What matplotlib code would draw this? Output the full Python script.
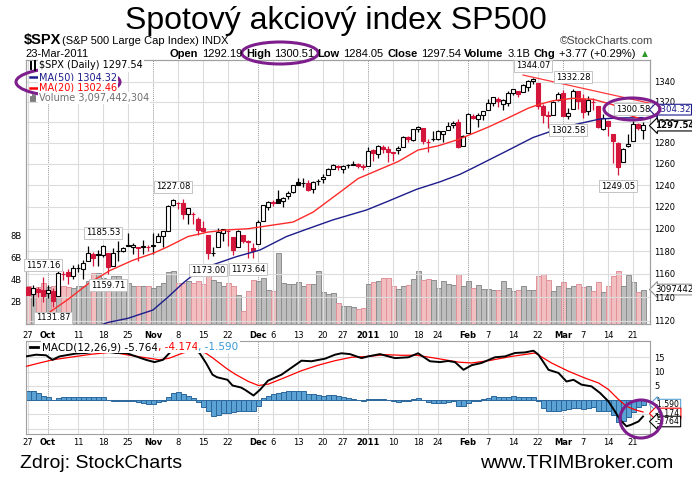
"""
$SPX daily candles (27-Sep-2010 .. 23-Mar-2011) with MA(50), MA(20),
volume overlay and a MACD(12,26,9) panel, StockCharts style.
"""
import pandas as pd
import matplotlib
matplotlib.use('Agg')
import matplotlib.pyplot as plt
from matplotlib.patches import Ellipse
from matplotlib.lines import Line2D
from matplotlib.ticker import FixedLocator, NullLocator, FuncFormatter

W, H, DPI = 692, 480, 100

# ---- trading days -------------------------------------------------------
holidays = ['2010-11-25', '2010-12-24', '2011-01-17', '2011-02-21']
days = pd.bdate_range('2010-09-27', '2011-03-23')
days = days[~days.isin(pd.to_datetime(holidays))]

prev_close = 1148.67  # close of 24-Sep-2010

opens = [1148.64, 1142.31, 1146.75, 1145.97, 1143.49,
         1144.96, 1140.68, 1159.81, 1161.57, 1158.36,
         1165.32, 1164.28, 1171.32, 1177.82, 1177.47,
         1176.83, 1178.64, 1166.74, 1179.82, 1180.52,
         1184.74, 1183.84, 1183.84, 1184.47, 1183.87,
         1185.71, 1187.86, 1193.79, 1198.34, 1221.20,
         1223.24, 1223.59, 1213.14, 1213.04, 1209.07,
         1200.44, 1194.79, 1178.33, 1183.75, 1196.12,
         1198.07, 1192.51, 1183.70, 1194.16,
         1189.08, 1182.96, 1186.60, 1206.81, 1219.93,
         1223.87, 1227.25, 1225.02, 1230.14, 1233.85,
         1242.52, 1241.84, 1241.58, 1236.34, 1243.63,
         1245.76, 1249.43, 1254.94, 1257.53,
         1254.66, 1259.10, 1258.78, 1259.44, 1256.76,
         1257.62, 1272.95, 1268.78, 1276.29, 1274.41,
         1270.84, 1272.58, 1275.65, 1285.78, 1282.90,
         1293.22, 1294.52, 1280.85, 1283.63,
         1283.29, 1288.17, 1291.97, 1297.51, 1299.63,
         1276.50, 1289.14, 1305.91, 1302.77, 1307.01,
         1311.85, 1318.76, 1322.48, 1318.13, 1318.66,
         1328.73, 1330.43, 1329.51, 1334.37, 1340.38,
         1338.91, 1315.44, 1307.09, 1307.34,
         1321.61, 1328.64, 1305.47, 1312.37, 1330.73,
         1322.72, 1311.05, 1319.92, 1315.72, 1293.43,
         1301.19, 1288.46, 1279.46, 1261.61, 1276.71,
         1281.65, 1298.29, 1292.19]

highs = [1149.92, 1150.00, 1148.63, 1157.16, 1150.30,
         1148.16, 1162.76, 1162.33, 1163.87, 1167.73,
         1168.68, 1172.58, 1184.38, 1178.89, 1181.20,
         1185.53, 1178.64, 1182.94, 1189.43, 1183.93,
         1196.14, 1187.11, 1183.84, 1189.53, 1185.46,
         1195.81, 1195.88, 1198.30, 1221.25, 1227.08,
         1224.57, 1226.84, 1218.75, 1215.45, 1210.50,
         1207.43, 1194.79, 1183.56, 1200.29, 1199.97,
         1198.94, 1192.51, 1198.62, 1194.16,
         1190.34, 1187.40, 1207.61, 1221.89, 1225.57,
         1225.80, 1235.05, 1228.93, 1234.71, 1240.40,
         1246.73, 1246.59, 1244.25, 1243.75, 1245.81,
         1250.20, 1255.82, 1259.39, 1258.59,
         1258.43, 1259.90, 1262.60, 1261.09, 1259.34,
         1276.17, 1274.12, 1277.63, 1278.17, 1276.83,
         1271.52, 1277.25, 1286.87, 1286.70, 1293.24,
         1296.06, 1294.60, 1283.35, 1291.21,
         1291.93, 1291.26, 1299.74, 1301.29, 1302.67,
         1287.17, 1308.86, 1307.61, 1308.60, 1311.00,
         1322.85, 1324.87, 1324.54, 1322.76, 1330.79,
         1332.96, 1330.43, 1337.61, 1341.50, 1344.07,
         1338.91, 1317.91, 1310.91, 1320.61,
         1329.38, 1332.09, 1314.19, 1332.28, 1331.08,
         1327.68, 1325.74, 1323.21, 1315.72, 1308.35,
         1301.19, 1288.46, 1280.91, 1274.81, 1288.88,
         1300.58, 1299.35, 1300.51]

lows = [1142.00, 1132.09, 1140.26, 1136.08, 1139.42,
        1131.87, 1140.68, 1154.85, 1151.41, 1155.58,
        1162.02, 1155.71, 1171.32, 1166.71, 1167.12,
        1174.55, 1159.71, 1166.74, 1171.17, 1178.99,
        1184.74, 1177.72, 1171.70, 1177.10, 1179.70,
        1177.65, 1187.86, 1183.56, 1198.34, 1220.29,
        1217.55, 1208.94, 1204.33, 1204.49, 1194.08,
        1197.15, 1173.00, 1175.82, 1183.75, 1189.44,
        1184.58, 1176.91, 1183.70, 1186.93,
        1173.64, 1174.14, 1186.60, 1206.81, 1216.82,
        1220.67, 1223.25, 1219.50, 1226.85, 1232.58,
        1240.34, 1238.17, 1234.01, 1232.85, 1239.87,
        1241.51, 1249.43, 1254.94, 1254.05,
        1251.48, 1256.22, 1258.78, 1256.32, 1254.19,
        1257.62, 1262.66, 1265.36, 1270.43, 1261.70,
        1262.18, 1269.62, 1275.65, 1280.47, 1281.24,
        1290.16, 1278.92, 1271.26, 1282.07,
        1282.47, 1281.07, 1291.97, 1294.41, 1275.10,
        1276.50, 1289.14, 1302.62, 1294.83, 1301.67,
        1311.85, 1316.03, 1314.89, 1311.74, 1316.08,
        1326.90, 1324.61, 1329.51, 1331.00, 1338.12,
        1312.33, 1299.55, 1294.26, 1307.34,
        1320.55, 1306.14, 1302.58, 1312.37, 1312.59,
        1303.99, 1306.86, 1312.27, 1294.21, 1291.99,
        1286.37, 1261.12, 1249.05, 1261.61, 1276.18,
        1281.65, 1292.70, 1284.05]

closes = [1142.16, 1147.70, 1144.73, 1141.20, 1146.24,
          1137.03, 1160.75, 1159.97, 1158.06, 1165.15,
          1165.32, 1169.77, 1178.10, 1173.81, 1176.19,
          1184.71, 1165.90, 1178.17, 1180.26, 1183.08,
          1185.62, 1185.64, 1182.45, 1183.78, 1183.26,
          1184.38, 1193.57, 1197.96, 1221.06, 1225.85,
          1223.25, 1213.40, 1218.71, 1213.54, 1199.21,
          1197.75, 1178.34, 1178.59, 1196.69, 1199.73,
          1197.84, 1180.73, 1198.35, 1189.40,
          1187.76, 1180.55, 1206.07, 1221.53, 1224.71,
          1223.12, 1223.75, 1228.28, 1233.00, 1240.40,
          1240.46, 1241.59, 1235.23, 1242.87, 1243.91,
          1247.08, 1254.60, 1258.84, 1256.77,
          1257.54, 1258.51, 1259.78, 1257.88, 1257.64,
          1271.87, 1270.20, 1276.56, 1273.85, 1271.50,
          1269.75, 1274.48, 1285.96, 1283.76, 1293.24,
          1295.02, 1281.92, 1280.26, 1283.35,
          1290.84, 1291.18, 1296.63, 1299.54, 1276.34,
          1286.12, 1307.59, 1304.03, 1307.10, 1310.87,
          1319.05, 1324.57, 1320.88, 1321.87, 1329.15,
          1332.32, 1328.01, 1336.32, 1340.43, 1343.01,
          1315.44, 1307.40, 1306.10, 1319.88,
          1327.22, 1306.33, 1308.44, 1330.97, 1321.15,
          1310.13, 1321.82, 1320.02, 1295.11, 1304.28,
          1296.39, 1281.87, 1256.88, 1273.72, 1279.20,
          1298.38, 1293.77, 1297.54]

# volume in billions of shares
volume_b = [3.39, 3.24, 3.33, 3.69, 3.33, 3.39, 3.39, 3.45, 3.33, 3.24,
            3.39, 3.39, 3.84, 4.58, 4.58, 4.14, 3.99, 4.29, 4.29, 3.99,
            3.69, 3.39, 3.45, 3.39, 3.39, 3.24, 3.45, 3.69, 4.65, 4.73,
            3.69, 3.69, 3.84, 3.69, 3.84, 3.63, 4.29, 3.99, 3.75, 3.39,
            3.69, 3.39, 2.65, 1.16, 2.95, 3.93, 3.84, 4.14, 3.10, 2.95,
            6.43, 3.69, 3.63, 3.63, 3.75, 3.45, 3.63, 3.63, 4.79, 2.86,
            2.74, 2.80, 1.85, 1.61, 1.61, 1.49, 1.31, 1.43, 3.63, 3.75,
            3.90, 4.17, 4.17, 3.45, 3.18, 3.45, 3.54, 4.08, 4.73, 3.93,
            4.05, 3.99, 3.24, 3.84, 3.63, 3.54, 4.52, 3.45, 3.84, 3.27,
            3.54, 3.18, 3.18, 3.04, 3.10, 3.84, 3.27, 2.95, 3.10, 3.39,
            3.04, 3.10, 4.34, 4.52, 3.99, 2.95, 3.39, 3.75, 3.21, 3.45,
            3.63, 3.30, 3.39, 2.95, 3.75, 2.92, 3.39, 4.29, 4.73, 3.45,
            4.37, 3.75, 2.86, 3.10]

# moving averages, read at chart vertices (x = trading-day index)
ma20_x = [1.5, 4.6, 8, 12.2, 16.4, 21, 25, 28, 32, 36, 40, 44, 47, 53, 57,
          62, 66, 70, 74, 78, 82, 86, 92, 96, 100, 102, 105, 109, 113, 117,
          120, 123]
ma20_y = [1117, 1128, 1138, 1152, 1163, 1172, 1178, 1184, 1193, 1197, 1199,
          1200, 1202, 1206, 1215, 1232, 1246, 1254, 1262, 1273, 1277, 1283,
          1295, 1304, 1313.5, 1317, 1321, 1323.4, 1322.4, 1317, 1307, 1302.46]
ma50_x = [13, 16, 20, 25, 28, 31, 33, 37, 41.6, 46.4, 51.7, 56, 61, 67.7, 72,
          77.7, 82.4, 86.4, 89, 95.7, 101, 104.4, 109, 114.4, 118, 123]
ma50_y = [1114, 1118.5, 1122, 1129, 1140, 1152, 1159, 1168, 1175, 1181, 1193,
          1200, 1208, 1217, 1225, 1236, 1243, 1250, 1256, 1272, 1285, 1290.7,
          1297.2, 1303, 1304, 1304.32]

# MACD(12,26,9)
macd_x = [-0.4, 1.6, 3.6, 4.9, 6.3, 9.6, 11.6, 13.5, 15.5, 17.6,
          19.6, 21.6, 23.6, 25.3, 27, 28.3, 29.5, 31, 33, 34.3,
          35.6, 36.9, 37.8, 39.9, 40.9, 42.6, 43.4, 45.1, 46.4, 48,
          50.7, 54.7, 56.7, 59.4, 61.4, 62.7, 64.4, 66.7, 68, 70.4,
          73.4, 76.1, 78, 80.4, 82.4, 84, 85.4, 87.1, 88.7, 90.7,
          93.4, 95.4, 97.4, 99.4, 101.1, 102.1, 104.1, 106.1, 107.7, 109.1,
          110.7, 112.7, 114.4, 116.1, 117.4, 118.4, 119.7, 120.7, 122.1, 123]
macd_y = [15.3, 15.9, 15.7, 14.1, 15.3, 16.3, 16.5, 17.0, 17.0, 16.5,
          16.5, 15.3, 14.1, 13.3, 14.1, 16.5, 18.5, 19.0, 18.0, 16.5,
          13.0, 8.9, 8.0, 7.1, 5.1, 4.4, 3.6, 1.6, 3.6, 6.8,
          8.9, 13.8, 13.6, 14.5, 15.9, 16.4, 16.1, 14.7, 15.3, 16.1,
          14.7, 15.0, 16.4, 13.6, 13.3, 13.7, 13.3, 10.6, 12.2, 13.0,
          15.0, 15.3, 16.5, 16.7, 17.3, 15.9, 10.6, 9.5, 6.5, 7.1,
          5.4, 4.8, 2.5, -0.5, -4.0, -6.9, -9.2, -8.6, -7.5, -5.764]
signal_x = [-0.4, 2.3, 4.9, 9.6, 12.9, 16.9, 19.6, 22.9, 26.3, 28.3,
            31, 33, 34.3, 35.5, 37, 39.6, 41.4, 44.1, 46.1, 48.1,
            51.4, 54.7, 58, 61.4, 64.7, 68, 71.4, 74.7, 77.7, 81.4,
            83.4, 86.1, 88.7, 92.1, 96.7, 101.4, 104.7, 108.1, 111.4, 114.1,
            116.1, 118.1, 119.7, 121.4, 123]
signal_y = [11.8, 13.0, 14.1, 15.3, 16.1, 16.8, 15.9, 15.0, 14.1, 14.7,
            16.5, 17.3, 17.3, 16.5, 14.7, 11.2, 9.1, 6.5, 5.1, 5.6,
            7.9, 10.3, 12.2, 13.8, 15.0, 15.3, 15.9, 15.7, 15.7, 14.7,
            14.1, 13.3, 13.0, 13.8, 15.3, 16.5, 13.0, 10.1, 7.7, 6.0,
            3.7, 0.2, -2.2, -3.4, -4.174]
macd_hist = [3.0, 3.0, 2.3, 1.5, 0.9, 0.0, 0.6, 0.9, 0.9, 0.9,
             0.9, 0.9, 1.2, 1.2, 0.9, 1.2, 0.0, -0.2, -0.2, -0.2,
             -0.2, -0.5, -0.8, -1.2, -1.4, -1.4, -0.8, -0.2, 0.9, 2.3,
             2.7, 2.1, 1.5, 0.6, -0.8, -2.3, -4.0, -5.7, -5.1, -4.7,
             -4.7, -4.3, -4.0, -3.7, -3.7, -4.0, -2.0, 0.7, 1.5, 2.1,
             2.5, 2.7, 3.0, 3.3, 3.3, 3.3, 2.1, 2.1, 1.9, 1.5,
             1.9, 1.9, 1.5, 1.2, 0.7, 0.35, 0.0, -0.5, 0.2, 0.2,
             0.5, 0.2, 0.0, -0.2, -0.8, -0.2, -0.2, 0.35, 0.7, 0.0,
             -0.8, -1.2, -1.2, -0.9, -0.8, -0.5, -2.0, -2.2, -1.2, -0.5,
             -0.2, 0.2, 0.7, 1.5, 1.2, 0.9, 0.9, 1.5, 0.9, 1.2,
             1.2, 1.2, -0.5, -2.8, -3.7, -3.7, -4.0, -3.5, -3.2, -2.8,
             -2.8, -3.2, -2.8, -2.3, -4.0, -4.0, -4.0, -5.1, -7.8, -7.3,
             -6.1, -4.3, -2.6, -1.59]

# hand-drawn resistance line (date index, price)
trend_x = [99, 124.4]
trend_y = [1346.7, 1318.5]

# price labels StockCharts puts on swing highs / lows
peak_dates = ['2010-09-30', '2010-10-18', '2010-11-05', '2011-02-18',
              '2011-03-03', '2011-03-21']
trough_dates = ['2010-10-04', '2010-10-19', '2010-11-16', '2010-11-29',
                '2011-03-02', '2011-03-16']

tick_dates = ['2010-09-27', '2010-10-01', '2010-10-11', '2010-10-18',
              '2010-10-25', '2010-11-01', '2010-11-08', '2010-11-15',
              '2010-11-22', '2010-12-01', '2010-12-06', '2010-12-13',
              '2010-12-20', '2010-12-27', '2011-01-03', '2011-01-10',
              '2011-01-18', '2011-01-24', '2011-02-01', '2011-02-07',
              '2011-02-14', '2011-02-22', '2011-03-01', '2011-03-07',
              '2011-03-14', '2011-03-21']
tick_labels = ['27', 'Oct', '11', '18', '25', 'Nov', '8', '15', '22', 'Dec',
               '6', '13', '20', '27', '2011', '10', '18', '24', 'Feb', '7',
               '14', '22', 'Mar', '7', '14', '21']
month_labels = {'Oct', 'Nov', 'Dec', '2011', 'Feb', 'Mar'}

price_ticks = list(range(1120, 1341, 20))
volume_ticks = [2, 4, 6, 8]
macd_ticks = [-10, -5, 0, 5, 10, 15]

header_parts = [('Open', True), ('1292.19', False), ('High', True),
                ('1300.51', False), ('Low', True), ('1284.05', False),
                ('Close', True), ('1297.54', False), ('Volume', True),
                ('3.1B', False), ('Chg', True), ('+3.77 (+0.29%)', False)]

# ---- styling --------------------------------------------------------------
plt.rcParams['font.family'] = 'DejaVu Sans'
RED = '#d4163c'
GRID = '#dcdcdc'
MONTH_GRID = '#9a9a9a'
FRAME = '#a0a0a0'
PURPLE = '#7d1e8c'


def fx(px):
    return px / W


def fy(py):
    return 1 - py / H


def ptext(x, y, s, **kw):
    kw.setdefault('va', 'center')
    return fig.text(fx(x), fy(y), s, **kw)


fig = plt.figure(figsize=(W / DPI, H / DPI), dpi=DPI)
fig.patch.set_facecolor('white')
renderer = fig.canvas.get_renderer()

L, R = 26, 650
ax_vol = fig.add_axes([fx(L), fy(324), (R - L) / W, (324 - 59.5) / H])
ax = ax_vol.twinx()
ax_m = fig.add_axes([fx(L), fy(434), (R - L) / W, (434 - 341) / H],
                    sharex=ax_vol)

idx = list(range(len(days)))
tick_pos = [days.get_loc(pd.Timestamp(d)) for d in tick_dates]
prev = [prev_close] + closes[:-1]
up = [c >= p for c, p in zip(closes, prev)]

# ---- volume overlay ------------------------------------------------------
ax_vol.bar(idx, volume_b, width=1.0,
           color=['#bdbdbd' if u else '#f2bec0' for u in up],
           edgecolor=['#8e8e8e' if u else '#e0929a' for u in up],
           linewidth=0.7, zorder=2)
ax_vol.set_ylim(0, 23.8)
ax_vol.set_xlim(-0.4, 124.4)
ax_vol.yaxis.set_major_locator(FixedLocator(volume_ticks))
ax_vol.yaxis.set_major_formatter(FuncFormatter(lambda v, p: f'{v:.0f}B'))

# ---- candles -------------------------------------------------------------
cols = ['black' if u else RED for u in up]
ax.vlines(idx, lows, highs, colors=cols, linewidth=0.9, zorder=3)
body_low = [min(o, c) for o, c in zip(opens, closes)]
body_h = [abs(c - o) for o, c in zip(opens, closes)]
fill = [col if c < o else 'white' for col, o, c in zip(cols, opens, closes)]
ax.bar(idx, body_h, bottom=body_low, width=0.75, color=fill,
       edgecolor=cols, linewidth=0.8, zorder=4)

ax.plot(ma50_x, ma50_y, color='#1c1c8c', lw=1.0, zorder=5)
ax.plot(ma20_x, ma20_y, color='#ff2a2a', lw=1.0, zorder=5)
ax.plot(trend_x, trend_y, color='#ff3a3a', lw=0.9, zorder=5, clip_on=False)

ax.set_yscale('log')
ax.set_ylim(1117.2, 1362.5)
ax.yaxis.set_major_locator(FixedLocator(price_ticks))
ax.yaxis.set_minor_locator(NullLocator())
ax.yaxis.set_major_formatter(FuncFormatter(lambda v, p: f'{v:.0f}'))
ax.grid(True, axis='y', color=GRID, lw=0.8)

for a in (ax, ax_m):
    for pos, lab in zip(tick_pos, tick_labels):
        if lab in month_labels:
            a.axvline(pos, color=MONTH_GRID, lw=0.7, ls=(0, (1, 1)), zorder=1)
        else:
            a.axvline(pos, color=GRID, lw=0.8, zorder=1)

# swing labels
lab_box = dict(boxstyle='square,pad=0.18', fc='white', ec='#c4c4c4', lw=0.7)
for d in peak_dates:
    i = days.get_loc(pd.Timestamp(d))
    ax.annotate(f'{highs[i]:.2f}', xy=(i, highs[i]), xytext=(0, 12),
                textcoords='offset pixels', ha='center', va='center',
                fontsize=6, bbox=lab_box, zorder=8)
for d in trough_dates:
    i = days.get_loc(pd.Timestamp(d))
    ax.annotate(f'{lows[i]:.2f}', xy=(i, lows[i]), xytext=(0, -11),
                textcoords='offset pixels', ha='center', va='center',
                fontsize=6, bbox=lab_box, zorder=8)


def right_tag(a, y, s, color, ec, bold=False, dy=0, size=6.2):
    a.annotate(s, xy=(1.0, y), xycoords=('axes fraction', 'data'),
               xytext=(5, dy), textcoords='offset pixels', ha='left',
               va='center', fontsize=size, color=color,
               fontweight='bold' if bold else 'normal',
               bbox=dict(boxstyle='larrow,pad=0.1', fc='white', ec=ec,
                         lw=0.8), annotation_clip=False, zorder=10)


# StockCharts stacks the last-value tags so they do not hide each other
right_tag(ax, ma50_y[-1], f'{ma50_y[-1]:.2f}', '#1c1c8c', '#1c1c8c', dy=8)
right_tag(ax, closes[-1], f'{closes[-1]:.2f}', 'black', 'black', bold=True,
          dy=-1)
right_tag(ax_vol, volume_b[-1], '3097442', 'black', '#909090')

# ---- MACD panel ----------------------------------------------------------
ax_m.bar(idx, macd_hist, width=1.0, color='#5aa2d4', edgecolor='#2c679c',
         linewidth=0.7, zorder=2)
ax_m.plot(signal_x, signal_y, color='red', lw=0.9, zorder=3)
ax_m.plot(macd_x, macd_y, color='black', lw=1.4, zorder=4)
ax_m.set_ylim(-11.9, 20.7)
ax_m.yaxis.tick_right()
ax_m.yaxis.set_major_locator(FixedLocator(macd_ticks))
ax_m.yaxis.set_major_formatter(
    FuncFormatter(lambda v, p: f'{v:.0f}' if v >= 0 else ''))
ax_m.grid(True, axis='y', color=GRID, lw=0.8)
right_tag(ax_m, macd_hist[-1], f'{macd_hist[-1]:.3f}', 'black', '#5aa2d4',
          dy=0, size=5.6)
right_tag(ax_m, signal_y[-1], f'{signal_y[-1]:.3f}', 'black', 'red',
          dy=-1.5, size=5.6)
right_tag(ax_m, macd_y[-1], f'{macd_y[-1]:.3f}', 'black', 'black',
          dy=-5, size=5.6)

# ---- axes cosmetics ------------------------------------------------------
for a in (ax_vol, ax, ax_m):
    for sp in a.spines.values():
        sp.set_color(FRAME)
        sp.set_linewidth(0.8)
    a.tick_params(length=0, labelsize=6)
ax.tick_params(axis='y', pad=3)
ax_vol.tick_params(axis='y', pad=3)
ax_m.tick_params(axis='y', pad=3)
for a, pad in ((ax_vol, 5), (ax_m, 3)):
    a.xaxis.set_major_locator(FixedLocator(tick_pos))
    a.set_xticklabels(tick_labels)
    a.tick_params(axis='x', pad=pad)
    for t in a.get_xticklabels():
        if t.get_text() in month_labels:
            t.set_fontweight('bold')

# ---- header / legends ----------------------------------------------------
ptext(336, 29, 'Spotový akciový index SP500', ha='center', va='baseline',
      fontsize=23, family='Liberation Sans')
ptext(24, 44, '$SPX', va='baseline', fontsize=10.5, fontweight='bold',
      family='Liberation Sans')
ptext(62, 44, '(S&P 500 Large Cap Index) INDX', va='baseline', fontsize=8,
      family='Liberation Sans')
ptext(653, 44, '\u00a9StockCharts.com', ha='right', va='baseline',
      fontsize=8, color='#444444', family='Liberation Sans')
ptext(25, 57, '23-Mar-2011', va='baseline', fontsize=8,
      family='Liberation Sans')

# quote line laid out word by word
x = 170
spans = []
for s, b in header_parts:
    t = ptext(x, 57, s, va='baseline', fontsize=8,
              fontweight='bold' if b else 'normal', family='Liberation Sans')
    w = t.get_window_extent(renderer=renderer).width
    spans.append((x, x + w))
    x += w + 3.5
ptext(x + 3, 56, '\u25b2', va='baseline', fontsize=5.5, color='#2a9a2a')
high_l, high_r = spans[2][0], spans[3][1]

legend_box = dict(boxstyle='square,pad=0.12', fc='white', ec='none')
ptext(39, 65.5, '$SPX (Daily) 1297.54', fontsize=7, bbox=legend_box)
ptext(39, 77, 'MA(50) 1304.32', fontsize=7, color='#1c1c8c', bbox=legend_box)
ptext(39, 87.5, 'MA(20) 1302.46', fontsize=7, color='red', bbox=legend_box)
ptext(39, 98, 'Volume 3,097,442,304', fontsize=7, color='#707070',
      bbox=legend_box)
icon_lines = [([30.5, 30.5], [62, 69], 'black', 1.4),
              ([34.5, 34.5], [61, 70], 'black', 1.4),
              ([30, 37], [77, 77], '#1c1c8c', 1.8),
              ([30, 37], [87.5, 87.5], 'red', 1.8),
              ([31, 31], [97, 101], '#707070', 1.3),
              ([33, 33], [95, 101], '#707070', 1.3),
              ([35, 35], [96, 101], '#707070', 1.3)]
for xs, ys, c, lw in icon_lines:
    fig.add_artist(Line2D([fx(v) for v in xs], [fy(v) for v in ys],
                          transform=fig.transFigure, color=c, lw=lw))

# MACD legend, three colours in a row
fig.add_artist(Line2D([fx(30), fx(38)], [fy(347), fy(347)],
                      transform=fig.transFigure, color='black', lw=2))
x = 42
for s, c in [('MACD(12,26,9) -5.764', 'black'), (', -4.174', 'red'),
             (', -1.590', '#3a9ad6')]:
    t = ptext(x, 347, s, fontsize=7.5, color=c, bbox=legend_box)
    x += t.get_window_extent(renderer=renderer).width

# purple hand-drawn ellipses
ellipses = [((high_l + high_r) / 2, 53, high_r - high_l + 8, 22),
            (68, 82, 104, 29), (632, 109, 56, 22), (641, 419, 42, 38)]
for cx, cy, w, h in ellipses:
    fig.add_artist(Ellipse((fx(cx), fy(cy)), w / W, h / H,
                           transform=fig.transFigure, fill=False,
                           ec=PURPLE, lw=2.2))

# footer
ptext(20, 464, 'Zdroj: StockCharts', fontsize=14, family='Liberation Sans')
ptext(673, 464, 'www.TRIMBroker.com', ha='right', fontsize=14,
      family='Liberation Sans')

fig.savefig('out.png', dpi=DPI, facecolor='white')
